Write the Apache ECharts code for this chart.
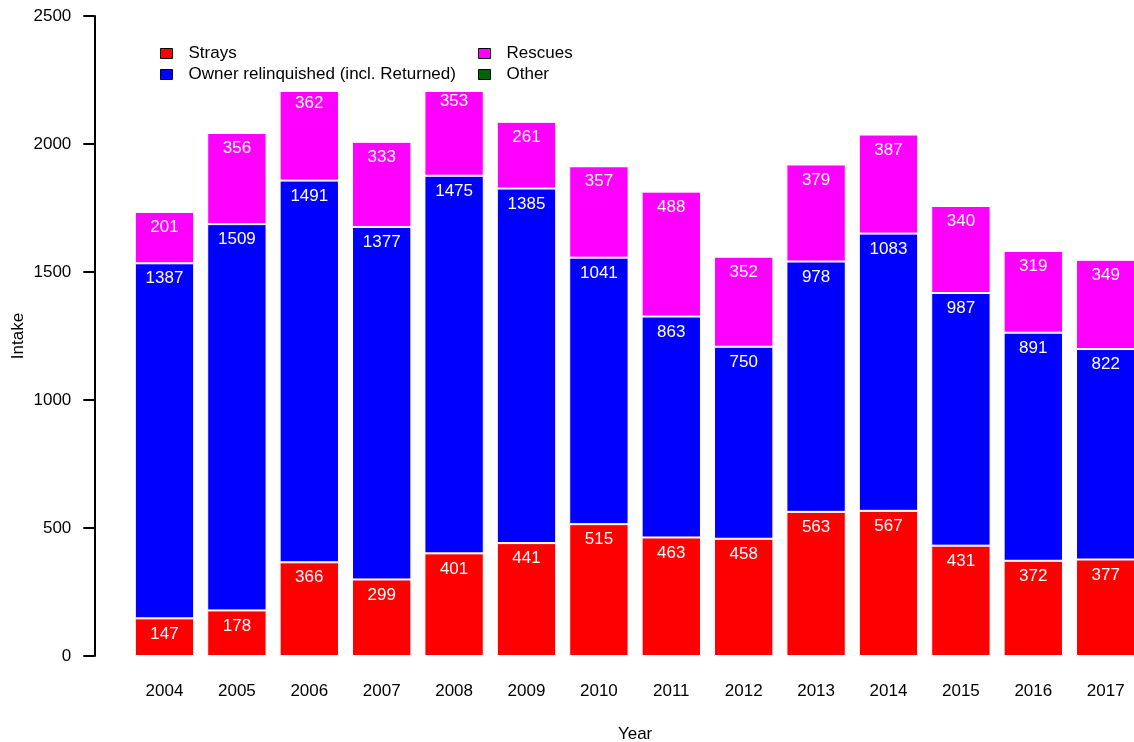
<!DOCTYPE html>
<html>
<head>
<meta charset="utf-8">
<script src="https://cdn.jsdelivr.net/npm/echarts@6/dist/echarts.min.js"></script>
<style>
html,body{margin:0;padding:0;background:#fff;}
#chart{width:1134px;height:742px;}
</style>
</head>
<body>
<div id="chart"></div>
<script>
var years = ['2004','2005','2006','2007','2008','2009','2010','2011','2012','2013','2014','2015','2016','2017'];
var strays = [147,178,366,299,401,441,515,463,458,563,567,431,372,377];
var owner = [1387,1509,1491,1377,1475,1385,1041,863,750,978,1083,987,891,822];
var rescues = [201,356,362,333,353,261,357,488,352,379,387,340,319,349];
var other = [0,0,0,0,0,0,0,0,0,0,0,0,0,0];
var yTicks = [0,500,1000,1500,2000,2500];

var FONT = '"Liberation Sans", Arial, sans-serif';
var chart = echarts.init(document.getElementById('chart'), null, {renderer:'canvas'});

function barSeries(name, data, color, showLabel){
  return {
    name: name, type: 'bar', stack: 'total', data: data,
    barCategoryGap: '18%',
    itemStyle: {color: color, borderColor: '#ffffff', borderWidth: 1},
    label: {
      show: showLabel, position: 'insideTop', distance: 7,
      color: '#ffffff', fontSize: 17, fontFamily: FONT
    },
    emphasis: {disabled: true},
    animation: false
  };
}

var legendCommon = {
  orient: 'vertical',
  backgroundColor: '#ffffff',
  itemWidth: 12, itemHeight: 10, itemGap: 4,
  icon: 'rect',
  itemStyle: {borderColor: '#000000', borderWidth: 1},
  textStyle: {fontSize: 17, fontFamily: FONT, color: '#000000', lineHeight: 17, padding: [0,0,0,11]},
  selectedMode: false,
  z: 10
};

chart.setOption({
  animation: false,
  grid: {left: 128.3, right: -7.9, top: 16, bottom: 86, containLabel: false, outerBoundsMode: 'none'},
  legend: [
    Object.assign({}, legendCommon, {
      data: ['Strays', 'Owner relinquished (incl. Returned)'],
      left: 155, top: 40, padding: [5, 14, 9, 5]
    }),
    Object.assign({}, legendCommon, {
      data: ['Rescues', 'Other'],
      left: 470, top: 40, padding: [5, 8, 9, 8]
    })
  ],
  xAxis: {
    type: 'category', data: years,
    axisLine: {show: false}, axisTick: {show: false},
    axisLabel: {fontSize: 17, fontFamily: FONT, color: '#000000', margin: 27},
    name: 'Year', nameLocation: 'middle', nameGap: 70, nameMoveOverlap: false,
    nameTextStyle: {fontSize: 17, fontFamily: FONT, color: '#000000'}
  },
  yAxis: {
    type: 'value', min: 0, max: 2500, interval: 500,
    offset: 34,
    axisLine: {show: true, lineStyle: {color: '#000000', width: 2}},
    axisTick: {show: true, inside: false, length: 11, lineStyle: {color: '#000000', width: 2}},
    splitLine: {show: false},
    axisLabel: {fontSize: 17, fontFamily: FONT, color: '#000000', margin: 23,
      formatter: function(v){ return yTicks.indexOf(v) >= 0 ? String(v) : ''; }},
    name: 'Intake', nameLocation: 'middle', nameGap: 67, nameRotate: 90, nameMoveOverlap: false,
    nameTextStyle: {fontSize: 17, fontFamily: FONT, color: '#000000'}
  },
  series: [
    barSeries('Strays', strays, '#ff0000', true),
    barSeries('Owner relinquished (incl. Returned)', owner, '#0000ff', true),
    barSeries('Rescues', rescues, '#ff00ff', true),
    barSeries('Other', other, '#006400', false)
  ]
});
</script>
</body>
</html>
